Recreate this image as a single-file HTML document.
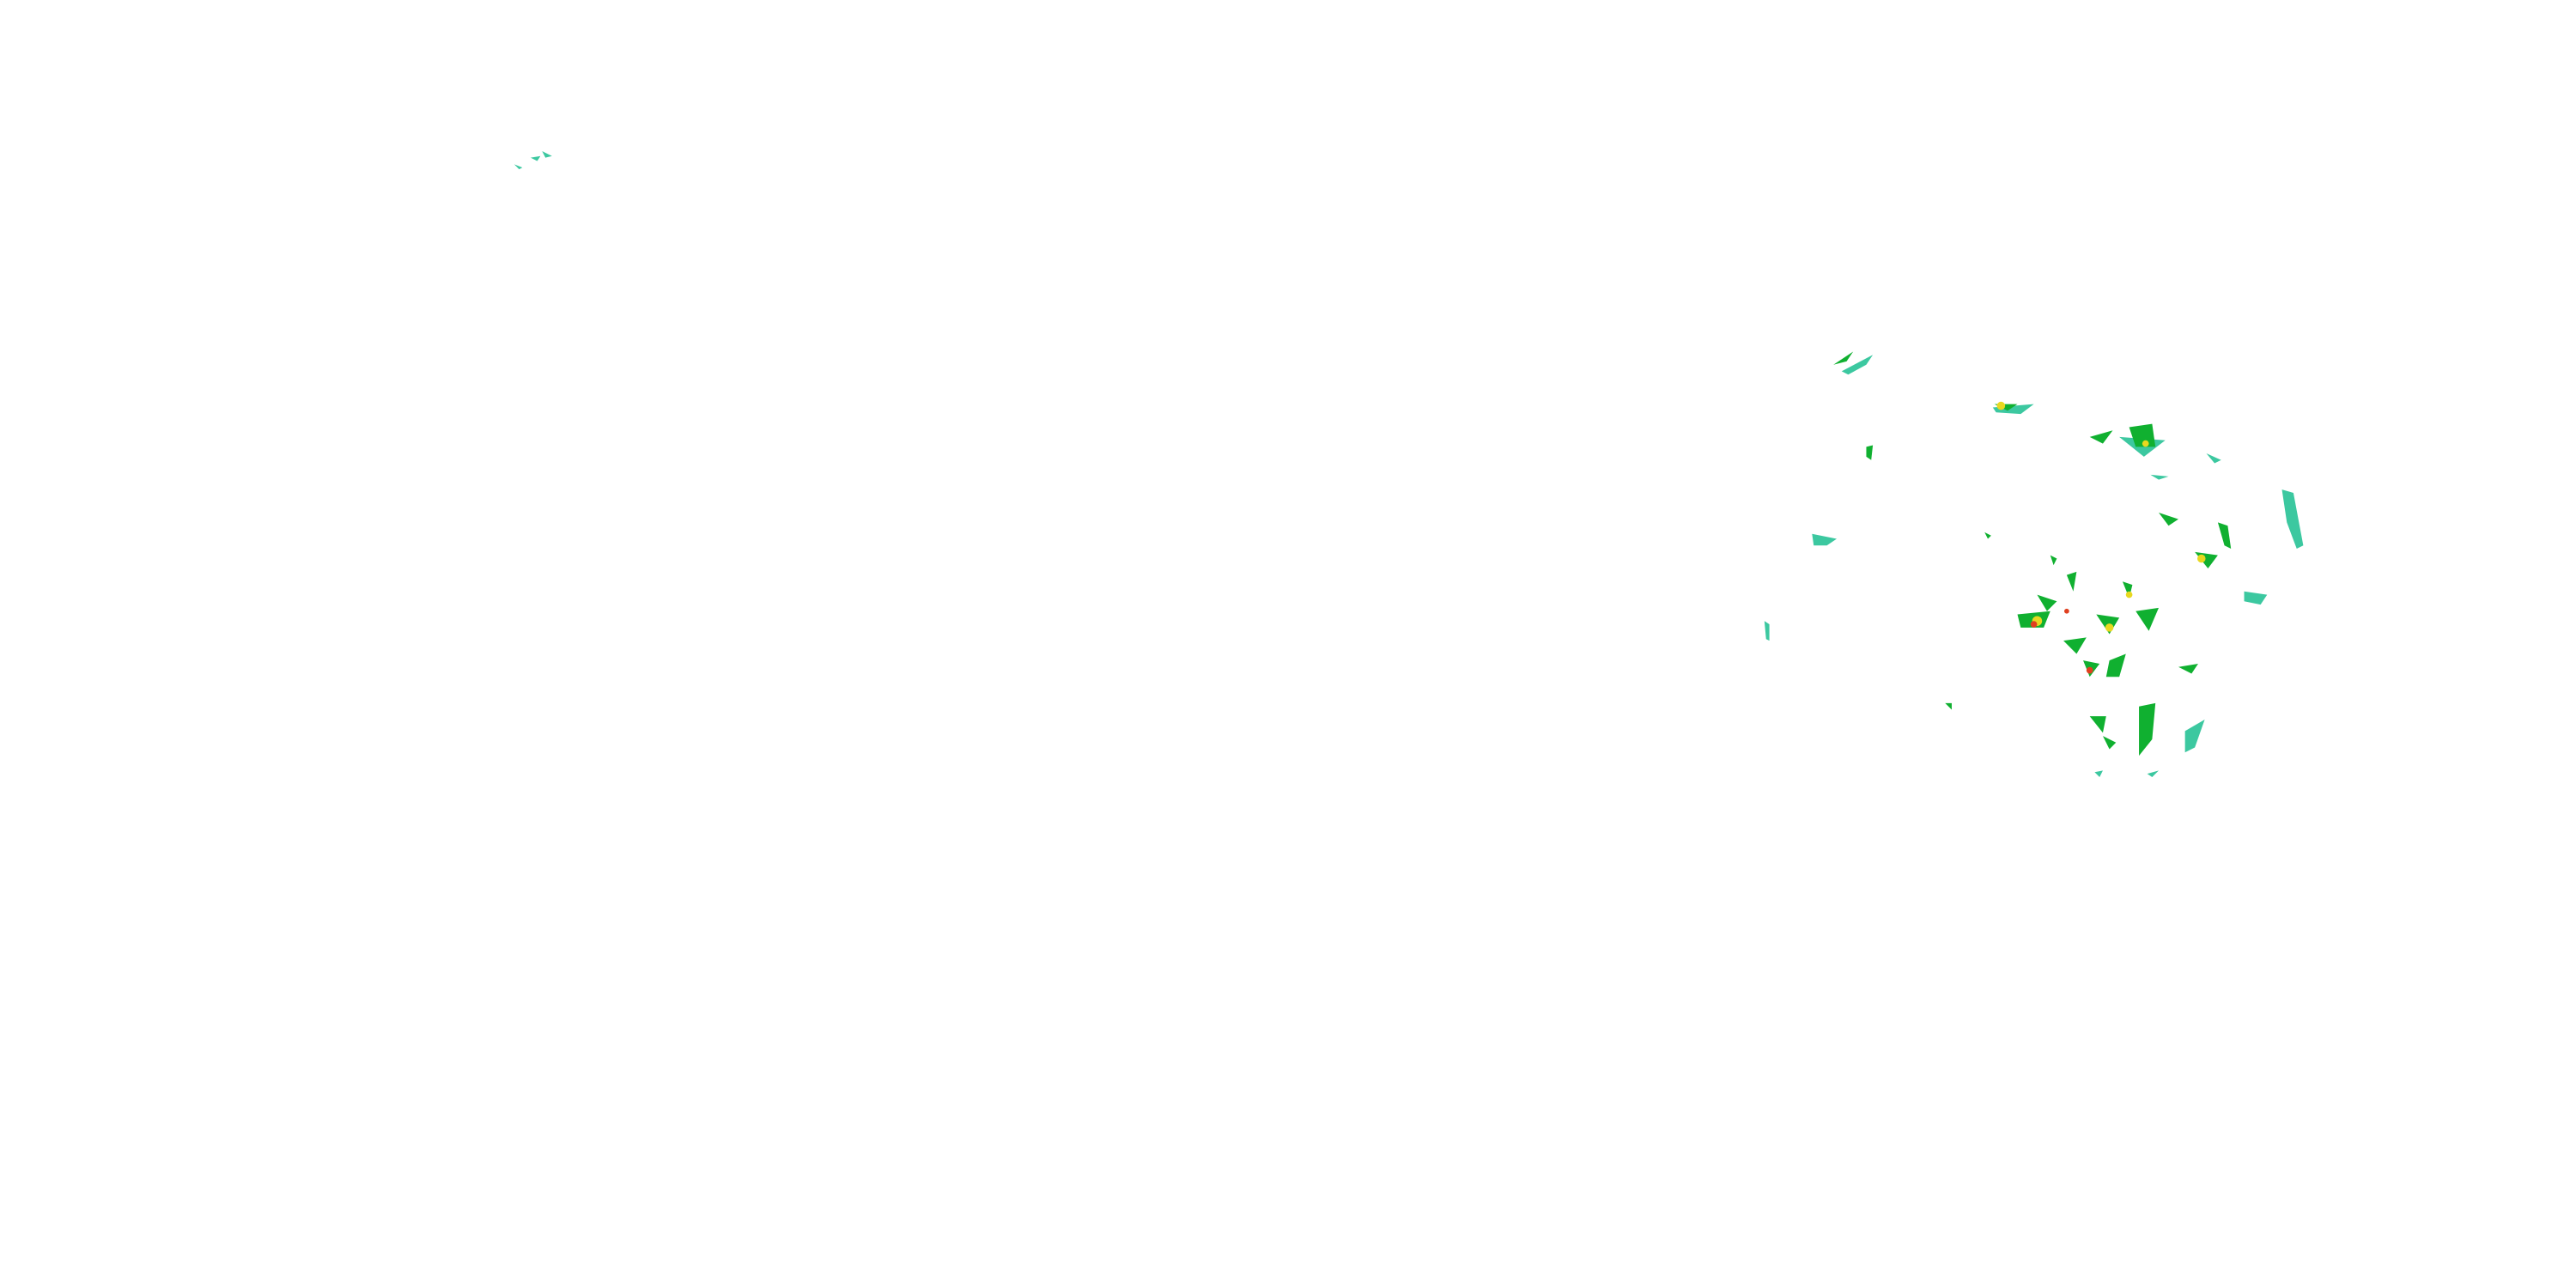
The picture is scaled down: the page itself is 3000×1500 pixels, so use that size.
<!DOCTYPE html>
<html><head><meta charset="utf-8"><style>
html,body{margin:0;padding:0;background:#fff;width:3000px;height:1500px;overflow:hidden}
svg{display:block}
</style></head><body>
<svg width="3000" height="1500" viewBox="0 0 1568 784" xmlns="http://www.w3.org/2000/svg">
<g fill="#3cc8a0">
<polygon points="313,100 318,102 316,103"/>
<polygon points="323,96 329,95 327,98"/>
<polygon points="330,92 336,95 332,96"/>
<polygon points="1121,226 1140,216 1136,222 1125,228"/>
<polygon points="1213,248 1238,246 1230,252 1215,251"/>
<polygon points="1290,266 1318,268 1305,278"/>
<polygon points="1389,298 1396,300 1402,332 1398,334 1392,318"/>
<polygon points="1366,360 1380,362 1376,368 1366,366"/>
<polygon points="1103,325 1118,328 1112,332 1104,332"/>
<polygon points="1074,378 1077,380 1077,390 1075,389"/>
<polygon points="1330,445 1342,438 1336,455 1330,458"/>
<polygon points="1343,276 1352,280 1348,282"/>
<polygon points="1309,289 1320,290 1314,292"/>
<polygon points="1275,470 1280,469 1278,473"/>
<polygon points="1307,471 1314,469 1310,473"/>
</g>
<g fill="#10b030">
<polygon points="1116,222 1128,214 1124,220"/>
<polygon points="1214,246 1228,246 1222,250"/>
<polygon points="1272,266 1286,262 1280,270"/>
<polygon points="1296,260 1310,258 1312,272 1300,272"/>
<polygon points="1136,272 1140,271 1139,280 1136,278"/>
<polygon points="1314,312 1326,316 1320,320"/>
<polygon points="1336,336 1350,338 1344,346"/>
<polygon points="1228,374 1248,372 1244,382 1230,382"/>
<polygon points="1256,390 1270,388 1264,398"/>
<polygon points="1276,374 1290,376 1284,386"/>
<polygon points="1300,372 1314,370 1308,384"/>
<polygon points="1284,402 1294,398 1290,412 1282,412"/>
<polygon points="1268,402 1278,404 1272,412"/>
<polygon points="1326,406 1338,404 1334,410"/>
<polygon points="1272,436 1282,436 1280,446"/>
<polygon points="1280,448 1288,452 1284,456"/>
<polygon points="1302,430 1312,428 1310,450 1302,460"/>
<polygon points="1258,350 1264,348 1262,360"/>
<polygon points="1240,362 1252,366 1246,372"/>
<polygon points="1350,318 1356,320 1358,334 1354,332"/>
<polygon points="1184,428 1188,428 1188,432"/>
<polygon points="1292,354 1298,356 1296,364"/>
<polygon points="1248,338 1252,340 1250,344"/>
<polygon points="1208,324 1212,326 1210,328"/>
</g>
<g fill="#e8d820">
<circle cx="1218" cy="247" r="2.5"/>
<circle cx="1240" cy="378" r="3"/>
<circle cx="1284" cy="382" r="2.5"/>
<circle cx="1296" cy="362" r="2"/>
<circle cx="1340" cy="340" r="2.5"/>
<circle cx="1306" cy="270" r="2"/>
</g>
<g fill="#e04020">
<circle cx="1238" cy="380" r="2"/>
<circle cx="1272" cy="408" r="2"/>
<circle cx="1258" cy="372" r="1.5"/>
</g>
</svg>
</body></html>
